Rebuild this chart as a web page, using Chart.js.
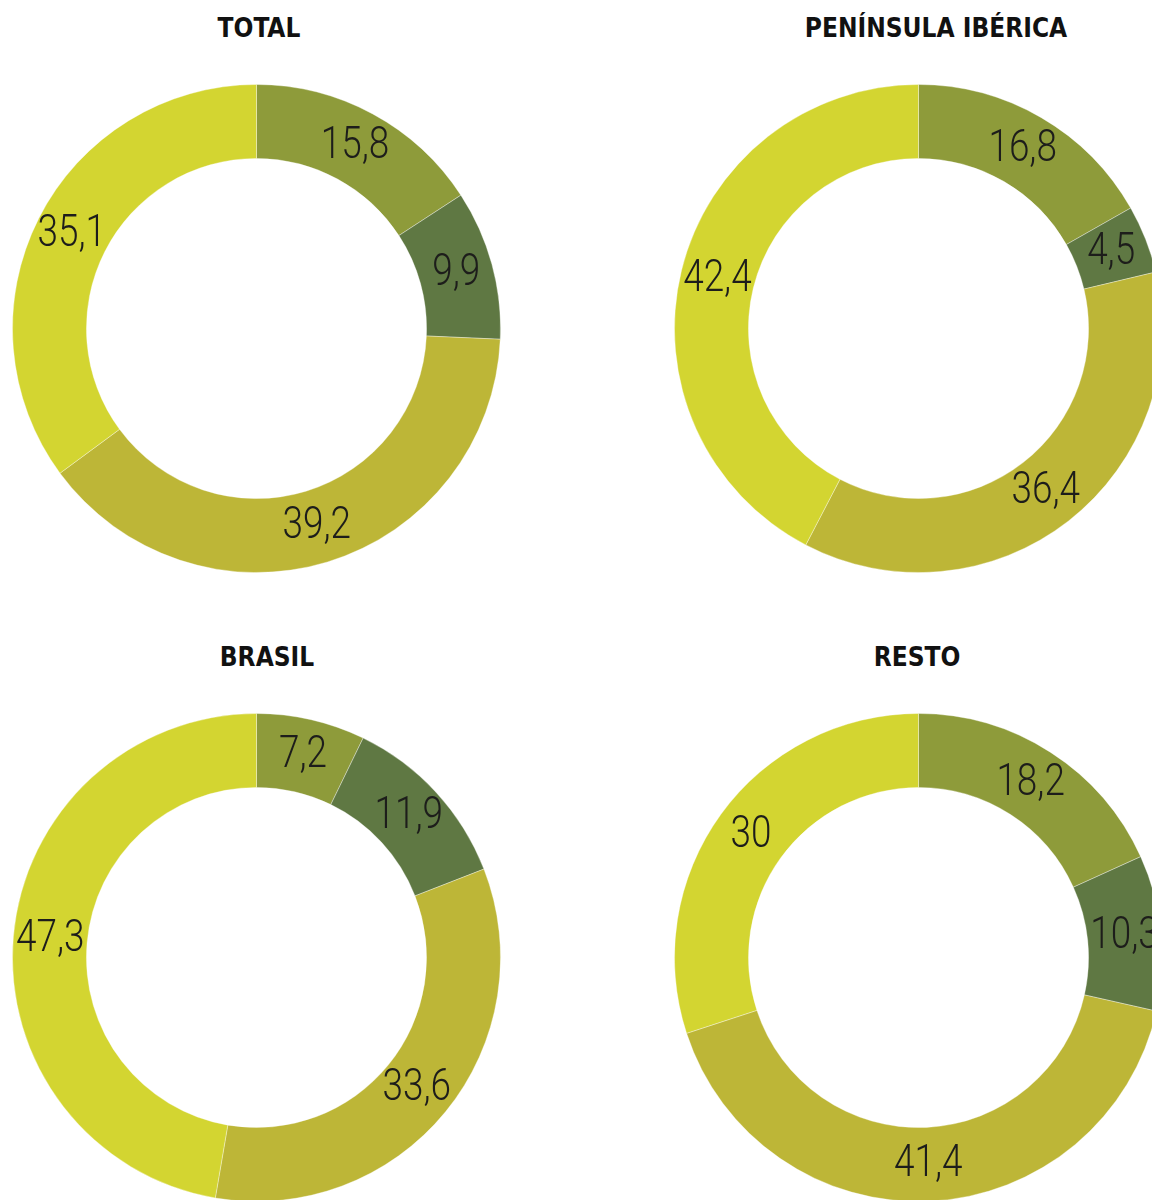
<!DOCTYPE html>
<html>
<head>
<meta charset="utf-8">
<script src="https://cdn.jsdelivr.net/npm/chart.js@4"></script>
<style>
  html, body { margin: 0; padding: 0; width: 1152px; height: 1200px; overflow: hidden; background: #fff; }
  .box { position: absolute; }
  .titulo {
    position: absolute; width: 400px; text-align: center;
    font-family: "DejaVu Sans Condensed", "DejaVu Sans", sans-serif;
    font-weight: bold; font-size: 26px; color: #111; line-height: 30px;
  }
</style>
</head>
<body>
<div class="titulo" style="left:59px; top:13px;">TOTAL</div>
<div class="titulo" style="left:736px; top:13px;">PENÍNSULA IBÉRICA</div>
<div class="titulo" style="left:67px; top:642px;">BRASIL</div>
<div class="titulo" style="left:717px; top:642px;">RESTO</div>

<div class="box" style="left:12px; top:84px;"><canvas id="total" width="489" height="489"></canvas></div>
<div class="box" style="left:674px; top:84px;"><canvas id="iberica" width="489" height="489"></canvas></div>
<div class="box" style="left:12px; top:713px;"><canvas id="brasil" width="489" height="489"></canvas></div>
<div class="box" style="left:674px; top:713px;"><canvas id="resto" width="489" height="489"></canvas></div>

<script>
/* waarden per regio, met de klok mee vanaf boven */
var total = [15.8, 9.9, 39.2, 35.1];
var iberica = [16.8, 4.5, 36.4, 42.4];
var brasil = [7.2, 11.9, 33.6, 47.3];
var resto = [18.2, 10.3, 41.4, 30];

var kleuren = ['#8e9b3a', '#5f7843', '#bdb637', '#d3d531'];

/* labels in het midden van de ring, met komma als decimaalteken (smal getekend) */
var ringLabels = {
    id: 'ringLabels',
    afterDatasetsDraw: function (chart) {
        var ctx = chart.ctx;
        var meta = chart.getDatasetMeta(0);
        var data = chart.data.datasets[0].data;
        meta.data.forEach(function (arc, i) {
            var p = arc.tooltipPosition();
            ctx.save();
            ctx.translate(p.x, p.y);
            ctx.scale(0.82, 1);
            ctx.font = '300 45px Roboto, "DejaVu Sans", sans-serif';
            ctx.fillStyle = '#1d1d1b';
            ctx.textAlign = 'center';
            ctx.textBaseline = 'middle';
            ctx.fillText(String(data[i]).replace('.', ','), 0, 0);
            ctx.restore();
        });
    }
};

function maakRing(id, waarden) {
    var ctx = document.getElementById(id).getContext('2d');
    return new Chart(ctx, {
        type: 'doughnut',
        data: {
            labels: ['A', 'B', 'C', 'D'],
            datasets: [{
                data: waarden,
                backgroundColor: kleuren,
                borderColor: 'rgba(255,255,255,0.35)',
                borderWidth: 1
            }]
        },
        options: {
            responsive: false,
            animation: false,
            events: [],
            cutout: '69.7%',
            layout: { padding: 0 },
            plugins: {
                legend: { display: false },
                tooltip: { enabled: false }
            }
        },
        plugins: [ringLabels]
    });
}

maakRing('total', total);
maakRing('iberica', iberica);
maakRing('brasil', brasil);
maakRing('resto', resto);
</script>
</body>
</html>
